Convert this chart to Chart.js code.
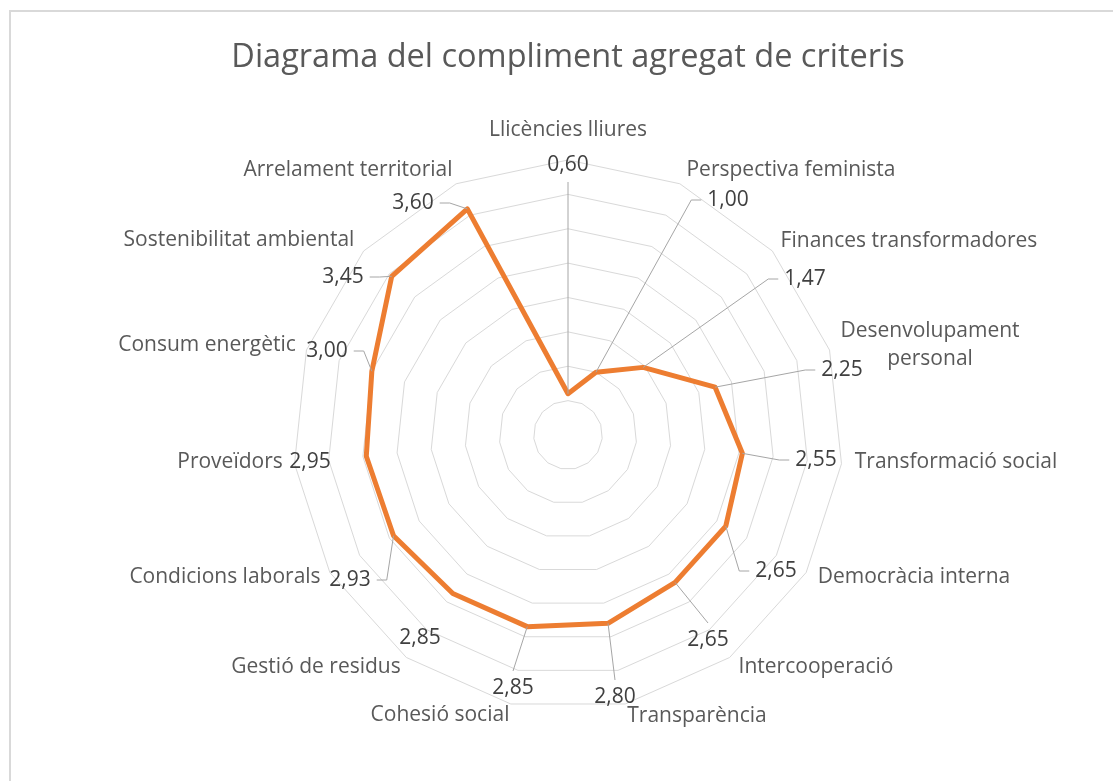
<!DOCTYPE html>
<html>
<head>
<meta charset="utf-8">
<title>Diagrama del compliment agregat de criteris</title>
<script src="https://cdn.jsdelivr.net/npm/chart.js@4.4.0/dist/chart.umd.min.js"></script>
<style>
  html, body { margin: 0; padding: 0; background: #fff; }
  #wrap { position: relative; width: 1113px; height: 781px; }
</style>
</head>
<body>
<div id="wrap"><canvas id="radarChart" width="1113" height="781"></canvas></div>
<script>
// chart data
const categories = [
  'Llicències lliures',
  'Perspectiva feminista',
  'Finances transformadores',
  ['Desenvolupament', 'personal'],
  'Transformació social',
  'Democràcia interna',
  'Intercooperació',
  'Transparència',
  'Cohesió social',
  'Gestió de residus',
  'Condicions laborals',
  'Proveïdors',
  'Consum energètic',
  'Sostenibilitat ambiental',
  'Arrelament territorial'
];
const values = [0.60, 1.00, 1.47, 2.25, 2.55, 2.65, 2.65, 2.80, 2.85, 2.85, 2.93, 2.95, 3.00, 3.45, 3.60];
const scaleMin = 0;
const scaleMax = 4;
const tickStep = 0.5;

// where Excel put each label, as offsets from the chart centre (px)
const valuePos = [[0,-270],[160,-235],[237,-156],[274,-65],[248,25],[208,136],[140,205],[47,262],
                  [-55,253],[-148,203],[-218,145],[-258,27],[-241,-84],[-225,-158],[-155,-232]];
const namePos  = [[0,-305],[223,-265],[341,-194],[362,-90],[388,27],[346,142],[248,232],[129,281],
                  [-128,280],[-252,232],[-343,142],[-338,27],[-361,-90],[-329,-195],[-220,-265]];
const leaderMode = ['v','h','h','h','h','h','v','v','v','','h','','h','h','h'];

const fmt = v => v.toFixed(2).replace('.', ',');

// light frame round the chart, like the Excel chart area
const frame = {
  id: 'frame',
  beforeDraw(chart) {
    const ctx = chart.ctx;
    ctx.save();
    ctx.fillStyle = '#ffffff';
    ctx.fillRect(0, 0, chart.width, chart.height);
    ctx.strokeStyle = '#d9d9d9';
    ctx.lineWidth = 2;
    ctx.strokeRect(10, 11, chart.width + 20, chart.height + 20);
    ctx.restore();
  }
};

// data labels: value + category name, with leader lines
const dataLabels = {
  id: 'dataLabels',
  afterDatasetsDraw(chart) {
    const ctx = chart.ctx;
    const r = chart.scales.r;
    const pts = chart.getDatasetMeta(0).data;
    ctx.save();
    ctx.font = '21px "Open Sans"';
    ctx.textAlign = 'center';
    ctx.textBaseline = 'middle';
    ctx.strokeStyle = '#a6a6a6';
    ctx.lineWidth = 1;
    pts.forEach((pt, i) => {
      const txt = fmt(values[i]);
      const w = ctx.measureText(txt).width;
      const vx = r.xCenter + valuePos[i][0];
      const vy = r.yCenter + valuePos[i][1];

      if (leaderMode[i] === 'h') {
        const dir = vx > pt.x ? 1 : -1;
        const edge = vx - dir * w / 2;
        ctx.beginPath();
        ctx.moveTo(pt.x, pt.y);
        ctx.lineTo(edge - dir * 16, vy);
        ctx.lineTo(edge - dir * 6, vy);
        ctx.stroke();
      } else if (leaderMode[i] === 'v') {
        const dir = vy > pt.y ? 1 : -1;
        ctx.beginPath();
        ctx.moveTo(pt.x, pt.y);
        ctx.lineTo(vx, vy - dir * 17);
        ctx.stroke();
      }

      ctx.fillStyle = '#404040';
      ctx.fillText(txt, vx, vy);

      const lines = [].concat(categories[i]);
      const nx = r.xCenter + namePos[i][0];
      const ny = r.yCenter + namePos[i][1];
      ctx.fillStyle = '#595959';
      lines.forEach((ln, k) => {
        ctx.fillText(ln, nx, ny + (k - (lines.length - 1) / 2) * 28);
      });
    });
    ctx.restore();
  }
};

Chart.defaults.font.family = '"Open Sans", sans-serif';

const ctx = document.getElementById('radarChart').getContext('2d');
const radarChart = new Chart(ctx, {
  type: 'radar',
  data: {
    labels: categories,
    datasets: [{
      label: 'Compliment',
      data: values,
      borderColor: '#ED7D31',
      backgroundColor: 'transparent',
      borderWidth: 5,
      borderJoinStyle: 'round',
      pointRadius: 0,
      pointHoverRadius: 0,
      fill: false,
      tension: 0
    }]
  },
  options: {
    responsive: false,
    animation: false,
    devicePixelRatio: 1,
    layout: {
      padding: { left: 100, right: 77, top: 0, bottom: 71 }
    },
    plugins: {
      legend: { display: false },
      tooltip: { enabled: false },
      title: {
        display: true,
        text: 'Diagrama del compliment agregat de criteris',
        color: '#595959',
        font: { size: 32.5, weight: 'normal' },
        padding: { top: 38, bottom: 83 }
      }
    },
    scales: {
      r: {
        min: scaleMin,
        max: scaleMax,
        ticks: { stepSize: tickStep, display: false },
        grid: { color: '#d9d9d9', lineWidth: 1, circular: false },
        angleLines: { display: false },
        pointLabels: { display: false }
      }
    }
  },
  plugins: [frame, dataLabels]
});
</script>
</body>
</html>
